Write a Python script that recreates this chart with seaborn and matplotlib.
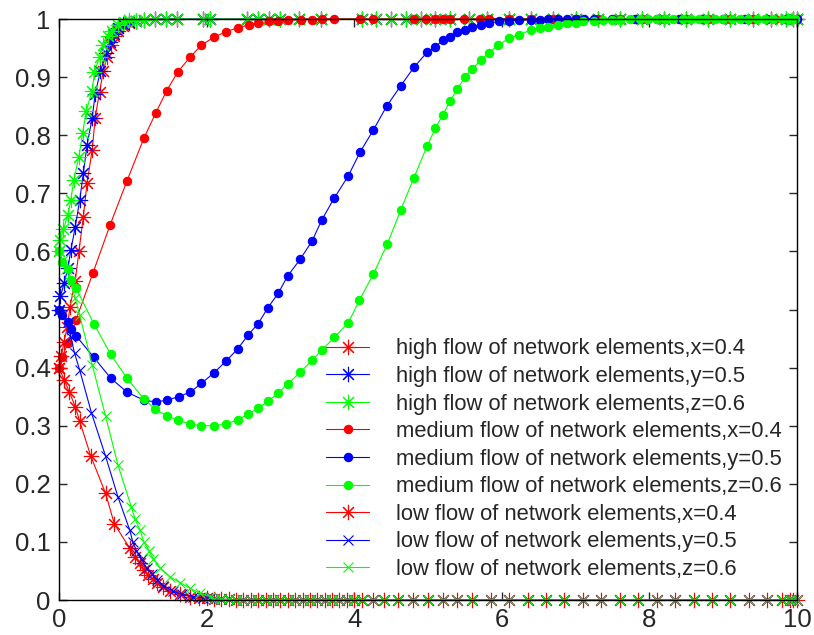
"""
Dinámica de flujo de elementos de red (alto / medio / bajo) para x, y, z.
Valores leídos a mano de la figura original.
"""

import pandas as pd
import seaborn as sns
from matplotlib import pyplot as plt

# --- tiempos compartidos para las colas saturadas ---
t_cola_alta = [1.05, 1.15, 1.3, 1.45, 1.6, 1.95, 2.05, 2.55, 2.7, 2.85, 3.0, 3.25, 3.55,
               4.1, 4.3, 4.5, 4.7, 4.9, 5.1, 5.3, 5.55, 5.8, 6.1, 6.4, 6.7, 7.0, 7.3, 7.6,
               7.9, 8.2, 8.5, 8.8, 9.1, 9.4, 9.65, 9.85, 9.95, 10.0]
v_cola_alta = [0.997, 0.999, 1.0, 1.0, 1.0, 1.0, 1.0, 1.0, 1.0, 1.0, 1.0, 1.0, 1.0,
               1.0, 1.0, 1.0, 1.0, 1.0, 1.0, 1.0, 1.0, 1.0, 1.0, 1.0, 1.0, 1.0, 1.0, 1.0,
               1.0, 1.0, 1.0, 1.0, 1.0, 1.0, 1.0, 1.0, 1.0, 1.0]

t_cola_baja = [2.1, 2.2, 2.3, 2.4, 2.5, 2.6, 2.7, 2.8, 2.9, 3.0, 3.1, 3.2, 3.3, 3.4, 3.5,
               3.6, 3.7, 3.8, 3.9, 4.0, 4.1, 4.25, 4.4, 4.6, 4.8, 5.0, 5.2, 5.4, 5.6, 5.85,
               6.1, 6.35, 6.6, 6.85, 7.1, 7.35, 7.6, 7.85, 8.1, 8.35, 8.6, 8.85, 9.1, 9.35,
               9.6, 9.8, 9.9, 9.95, 10.0]
v_cola_baja = [0.002, 0.001, 0.001, 0.0, 0.0, 0.0, 0.0, 0.0, 0.0, 0.0, 0.0, 0.0, 0.0, 0.0, 0.0,
               0.0, 0.0, 0.0, 0.0, 0.0, 0.0, 0.0, 0.0, 0.0, 0.0, 0.0, 0.0, 0.0, 0.0, 0.0,
               0.0, 0.0, 0.0, 0.0, 0.0, 0.0, 0.0, 0.0, 0.0, 0.0, 0.0, 0.0, 0.0, 0.0,
               0.0, 0.0, 0.0, 0.0, 0.0]

# --- flujo alto ---
t_alto_x = [0, 0.03, 0.07, 0.11, 0.15, 0.22, 0.27, 0.33, 0.38, 0.45, 0.49, 0.55, 0.6,
            0.65, 0.7, 0.75, 0.8, 0.87, 0.95]
v_alto_x = [0.4, 0.42, 0.445, 0.47, 0.505, 0.55, 0.6, 0.66, 0.718, 0.775, 0.83, 0.875,
            0.91, 0.935, 0.955, 0.97, 0.98, 0.988, 0.994]
t_alto_y = [0, 0.02, 0.07, 0.12, 0.16, 0.22, 0.28, 0.33, 0.38, 0.45, 0.49, 0.56, 0.64,
            0.69, 0.75, 0.8, 0.87, 0.95]
v_alto_y = [0.5, 0.523, 0.546, 0.571, 0.602, 0.642, 0.688, 0.735, 0.783, 0.83, 0.871,
            0.91, 0.941, 0.96, 0.974, 0.984, 0.991, 0.995]
t_alto_z = [0, 0.02, 0.06, 0.12, 0.16, 0.2, 0.27, 0.32, 0.37, 0.45, 0.48, 0.55, 0.6,
            0.66, 0.72, 0.8, 0.88, 0.95]
v_alto_z = [0.6, 0.62, 0.638, 0.663, 0.688, 0.723, 0.763, 0.804, 0.842, 0.877, 0.909,
            0.935, 0.955, 0.97, 0.98, 0.99, 0.995, 0.998]

# --- flujo medio ---
t_medio_x = [0, 0.04, 0.12, 0.23, 0.46, 0.69, 0.92, 1.15, 1.31, 1.46, 1.61, 1.78, 1.93,
             2.1, 2.26, 2.42, 2.57, 2.69, 2.84, 2.97, 3.1, 3.28, 3.43, 3.57, 3.73, 4.08,
             4.25, 4.81, 4.98, 5.1, 5.2, 5.3, 5.49, 5.7, 5.83, 6.1, 6.4, 6.7, 7.0, 7.3,
             7.6, 7.9, 8.2, 8.5, 8.8, 9.1, 9.4, 9.7, 10.0]
v_medio_x = [0.4, 0.418, 0.442, 0.482, 0.563, 0.645, 0.721, 0.795, 0.838, 0.877, 0.909,
             0.935, 0.955, 0.969, 0.978, 0.985, 0.99, 0.993, 0.996, 0.997, 0.998, 0.999,
             0.999, 1.0, 1.0, 1.0, 1.0, 1.0, 1.0, 1.0, 1.0, 1.0, 1.0, 1.0, 1.0, 1.0, 1.0,
             1.0, 1.0, 1.0, 1.0, 1.0, 1.0, 1.0, 1.0, 1.0, 1.0, 1.0, 1.0]
t_medio_y = [0, 0.04, 0.12, 0.16, 0.23, 0.47, 0.7, 0.92, 1.15, 1.31, 1.46, 1.62, 1.78,
             1.93, 2.1, 2.26, 2.42, 2.56, 2.7, 2.83, 2.97, 3.1, 3.27, 3.43, 3.56, 3.73,
             3.92, 4.08, 4.26, 4.44, 4.63, 4.81, 4.99, 5.1, 5.2, 5.3, 5.4, 5.5, 5.6, 5.72,
             5.83, 5.96, 6.1, 6.23, 6.4, 6.52, 6.63, 6.76, 6.88, 7.0, 7.12, 7.25, 7.5,
             7.8, 8.1, 8.4, 8.7, 9.0, 9.3, 9.6, 9.85, 10.0]
v_medio_y = [0.5, 0.49, 0.478, 0.466, 0.455, 0.418, 0.382, 0.358, 0.344, 0.341, 0.344,
             0.35, 0.358, 0.373, 0.391, 0.411, 0.432, 0.456, 0.476, 0.503, 0.528, 0.558,
             0.587, 0.618, 0.654, 0.692, 0.73, 0.771, 0.809, 0.85, 0.885, 0.917, 0.943,
             0.952, 0.964, 0.969, 0.978, 0.982, 0.986, 0.99, 0.993, 0.996, 0.997, 0.998,
             0.999, 0.999, 1.0, 1.0, 1.0, 1.0, 1.0, 1.0, 1.0, 1.0, 1.0, 1.0, 1.0, 1.0,
             1.0, 1.0, 1.0, 1.0]
t_medio_z = [0, 0.04, 0.12, 0.16, 0.23, 0.47, 0.7, 0.92, 1.15, 1.3, 1.46, 1.61, 1.78,
             1.93, 2.1, 2.26, 2.42, 2.56, 2.7, 2.83, 2.97, 3.1, 3.27, 3.43, 3.56, 3.73,
             3.92, 4.07, 4.26, 4.45, 4.63, 4.81, 4.99, 5.1, 5.2, 5.3, 5.4, 5.5, 5.6, 5.72,
             5.83, 5.95, 6.1, 6.23, 6.4, 6.52, 6.63, 6.76, 6.88, 7.0, 7.1, 7.25, 7.37,
             7.49, 7.6, 7.74, 7.87, 7.98, 8.1, 8.21, 8.32, 8.45, 8.56, 8.67, 8.77, 8.89,
             9.0, 9.12, 9.23, 9.34, 9.46, 9.57, 9.67, 9.8, 9.88, 9.97]
v_medio_z = [0.6, 0.582, 0.57, 0.551, 0.537, 0.476, 0.423, 0.382, 0.346, 0.329, 0.317,
             0.31, 0.303, 0.3, 0.3, 0.303, 0.31, 0.32, 0.33, 0.342, 0.356, 0.372, 0.392,
             0.413, 0.43, 0.452, 0.477, 0.516, 0.561, 0.613, 0.671, 0.727, 0.782, 0.812,
             0.835, 0.859, 0.88, 0.9, 0.914, 0.93, 0.942, 0.955, 0.967, 0.972, 0.982,
             0.985, 0.987, 0.99, 0.993, 0.994, 0.996, 0.997, 0.998, 0.999, 0.999, 1.0,
             1.0, 1.0, 1.0, 1.0, 1.0, 1.0, 1.0, 1.0, 1.0, 1.0, 1.0, 1.0, 1.0, 1.0, 1.0,
             1.0, 1.0, 1.0, 1.0, 1.0]

# --- flujo bajo ---
t_bajo_x = [0, 0.07, 0.14, 0.22, 0.28, 0.43, 0.63, 0.75, 0.96, 1.03, 1.1, 1.15, 1.21,
            1.27, 1.33, 1.41, 1.5, 1.64, 1.78, 1.9, 2.0]
v_bajo_x = [0.4, 0.379, 0.358, 0.333, 0.308, 0.248, 0.184, 0.131, 0.089, 0.074, 0.064,
            0.052, 0.043, 0.036, 0.03, 0.022, 0.015, 0.01, 0.006, 0.004, 0.003]
t_bajo_y = [0, 0.12, 0.16, 0.21, 0.28, 0.44, 0.63, 0.8, 0.96, 1.0, 1.05, 1.12, 1.19,
            1.26, 1.33, 1.41, 1.55, 1.66, 1.82, 1.95, 2.05]
v_bajo_y = [0.5, 0.479, 0.453, 0.425, 0.396, 0.322, 0.248, 0.177, 0.12, 0.1, 0.085,
            0.07, 0.055, 0.045, 0.035, 0.025, 0.015, 0.01, 0.006, 0.004, 0.003]
t_bajo_z = [0, 0.05, 0.1, 0.15, 0.22, 0.28, 0.45, 0.63, 0.8, 0.98, 1.03, 1.1, 1.15, 1.22,
            1.28, 1.37, 1.5, 1.64, 1.78, 1.91, 2.05]
v_bajo_z = [0.6, 0.585, 0.57, 0.548, 0.52, 0.49, 0.405, 0.317, 0.232, 0.16, 0.14, 0.12,
            0.1, 0.085, 0.07, 0.056, 0.04, 0.03, 0.02, 0.012, 0.006]

etiquetas = [
    "high flow of network elements,x=0.4",
    "high flow of network elements,y=0.5",
    "high flow of network elements,z=0.6",
    "medium flow of network elements,x=0.4",
    "medium flow of network elements,y=0.5",
    "medium flow of network elements,z=0.6",
    "low flow of network elements,x=0.4",
    "low flow of network elements,y=0.5",
    "low flow of network elements,z=0.6",
]

ROJO, AZUL, VERDE = "#ff0000", "#0000ff", "#00ff00"
ASTER = (8, 2, 0)

series = [
    (t_alto_x + t_cola_alta, v_alto_x + v_cola_alta, ROJO, ASTER, 11),
    (t_alto_y + t_cola_alta, v_alto_y + v_cola_alta, AZUL, ASTER, 11),
    (t_alto_z + t_cola_alta, v_alto_z + v_cola_alta, VERDE, ASTER, 11),
    (t_medio_x, v_medio_x, ROJO, "o", 6),
    (t_medio_y, v_medio_y, AZUL, "o", 6),
    (t_medio_z, v_medio_z, VERDE, "o", 6),
    (t_bajo_x + t_cola_baja, v_bajo_x + v_cola_baja, ROJO, ASTER, 11),
    (t_bajo_y + t_cola_baja, v_bajo_y + v_cola_baja, AZUL, "x", 7),
    (t_bajo_z + t_cola_baja, v_bajo_z + v_cola_baja, VERDE, "x", 7),
]

sns.set_style("ticks")
plt.rcParams["font.family"] = ["Liberation Sans", "DejaVu Sans"]

fig, ax = plt.subplots(figsize=(8.14, 6.35), dpi=100)
fig.subplots_adjust(left=0.0725, right=0.979, top=0.97, bottom=0.055)

for (t, v, color, marcador, tam), etiqueta in zip(series, etiquetas):
    df = pd.DataFrame({"t": t, "v": v})
    sns.lineplot(data=df, x="t", y="v", ax=ax, sort=False, estimator=None,
                 color=color, marker=marcador, markersize=tam, linewidth=0.8,
                 markeredgewidth=0.8, markeredgecolor=color, markerfacecolor=color,
                 label=etiqueta, clip_on=False)

ax.set_xlim(0, 10)
ax.set_ylim(0, 1)
ax.set_xticks([0, 2, 4, 6, 8, 10])
ax.set_xticklabels(["0", "2", "4", "6", "8", "10"])
ax.set_yticks([0, 0.1, 0.2, 0.3, 0.4, 0.5, 0.6, 0.7, 0.8, 0.9, 1])
ax.set_yticklabels(["0", "0.1", "0.2", "0.3", "0.4", "0.5", "0.6", "0.7", "0.8", "0.9", "1"])
ax.set_xlabel("")
ax.set_ylabel("")
ax.tick_params(direction="in", length=6, width=1, top=True, right=True,
               labelsize=18.5, pad=6)
for lado in ax.spines.values():
    lado.set_linewidth(1.0)
    lado.set_color("black")

ax.legend(loc="lower right", frameon=False, fontsize=15.8, handlelength=2.0,
          handletextpad=1.2, labelspacing=0.3, borderaxespad=0.3,
          bbox_to_anchor=(1.0, 0.008))

fig.savefig("out.png", dpi=100)
